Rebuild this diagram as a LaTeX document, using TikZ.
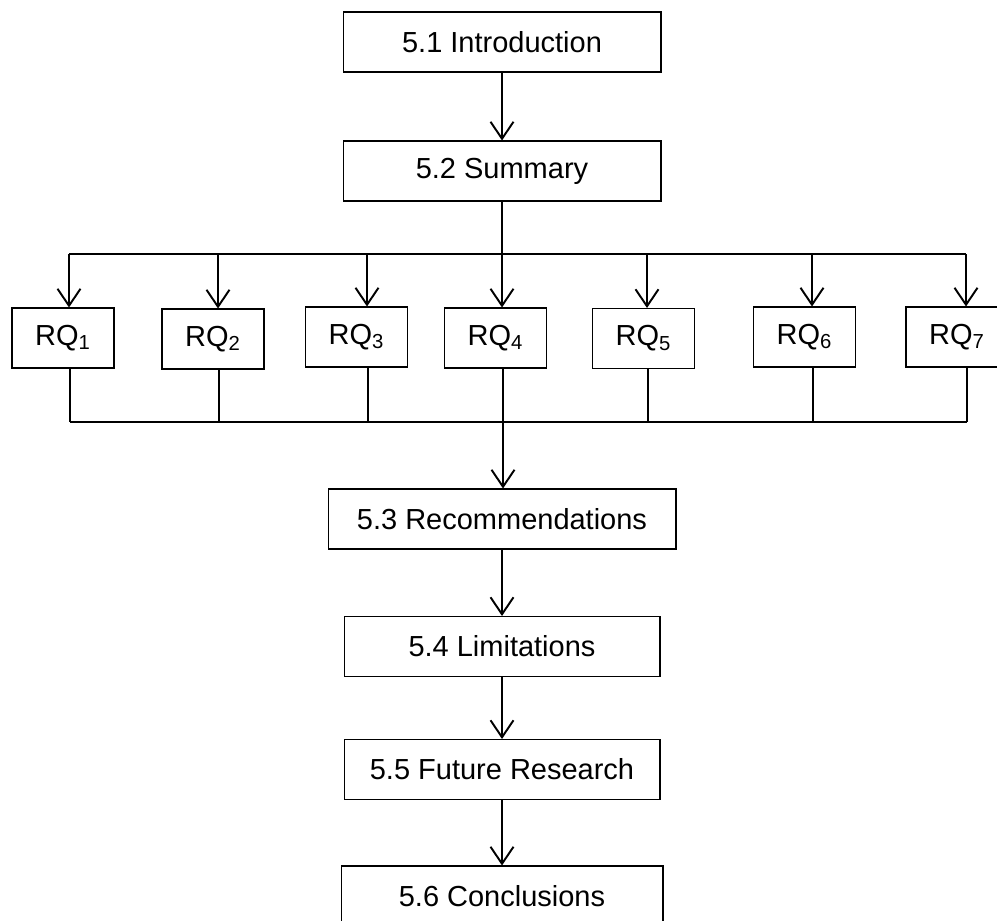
\documentclass[tikz,border=0pt]{standalone}
\usepackage{fontspec}
\setmainfont{Liberation Sans}
\usetikzlibrary{arrows.meta, positioning}
\tikzset{
	secbox/.style={draw=black, line width=0.6pt, rectangle, inner sep=0pt,
			minimum width=6.36cm, minimum height=1.2cm,
			font=\fontsize{16.5}{20}\selectfont}
}
\tikzset{
	rqbox/.style={secbox, minimum width=2.04cm}
}
\tikzset{
	downhead/.style={line width=1.1pt, -{Straight Barb[length=3.4mm, width=4.6mm]}}
}
\tikzset{
	busline/.style={line width=1.1pt}
}

\begin{document}
\begin{tikzpicture}[x=0.02cm, y=-0.02cm]

			\clip (0,0) rectangle (997,920);

			\begin{scope}
				\node[secbox] (intro) at (502,42) {5.1 Introduction};
				\node[secbox] (summ) at (502,171) {5.2 Summary};
			\end{scope}

			\begin{scope}
				\node[rqbox] (rq1) at (63,338) {RQ\textsubscript{1}};
				\node[rqbox] (rq2) at (213,339) {RQ\textsubscript{2}};
				\node[rqbox] (rq3) at (356.5,337) {RQ\textsubscript{3}};
				\node[rqbox] (rq4) at (495.5,338) {RQ\textsubscript{4}};
				\node[rqbox] (rq5) at (643.5,338.5) {RQ\textsubscript{5}};
				\node[rqbox] (rq6) at (804.5,337) {RQ\textsubscript{6}};
				\node[rqbox] (rq7) at (957,337) {RQ\textsubscript{7}};
			\end{scope}

			\begin{scope}
				\node[secbox, minimum width=6.96cm] (rec) at (502,519) {5.3 Recommendations};
				\node[secbox, minimum width=6.32cm] (lim) at (502,646.5) {5.4 Limitations};
				\node[secbox, minimum width=6.32cm] (fut) at (502,769.5) {5.5 Future Research};
				\node[secbox, minimum width=6.44cm] (conc) at (502,896) {5.6 Conclusions};
			\end{scope}

			\begin{scope}
				\coordinate (d1) at (69,254);
				\coordinate (d2) at (218,254);
				\coordinate (d3) at (367,254);
				\coordinate (d4) at (502,254);
				\coordinate (d5) at (647,254);
				\coordinate (d6) at (812,254);
				\coordinate (d7) at (966,254);

				\coordinate (u1) at (70,422);
				\coordinate (u2) at (219,422);
				\coordinate (u3) at (368,422);
				\coordinate (u4) at (503,422);
				\coordinate (u5) at (648,422);
				\coordinate (u6) at (813,422);
				\coordinate (u7) at (967,422);
			\end{scope}

			\draw[downhead] (intro) -- (summ);
			\draw[busline] (summ.south) -- (summ.south |- d4);
			\draw[busline] (d1) -- (d7);

			\draw[downhead] (d1) -- (d1 |- rq1.north);
			\draw[downhead] (d2) -- (d2 |- rq2.north);
			\draw[downhead] (d3) -- (d3 |- rq3.north);
			\draw[downhead] (d4) -- (d4 |- rq4.north);
			\draw[downhead] (d5) -- (d5 |- rq5.north);
			\draw[downhead] (d6) -- (d6 |- rq6.north);
			\draw[downhead] (d7) -- (d7 |- rq7.north);

			\draw[busline] (u1 |- rq1.south) -- (u1);
			\draw[busline] (u2 |- rq2.south) -- (u2);
			\draw[busline] (u3 |- rq3.south) -- (u3);
			\draw[busline] (u4 |- rq4.south) -- (u4);
			\draw[busline] (u5 |- rq5.south) -- (u5);
			\draw[busline] (u6 |- rq6.south) -- (u6);
			\draw[busline] (u7 |- rq7.south) -- (u7);
			\draw[busline] (u1) -- (u7);

			\draw[downhead] (u4) -- (u4 |- rec.north);
			\draw[downhead] (rec) -- (lim);
			\draw[downhead] (lim) -- (fut);
			\draw[downhead] (fut) -- (conc);

		\end{tikzpicture}
\end{document}
